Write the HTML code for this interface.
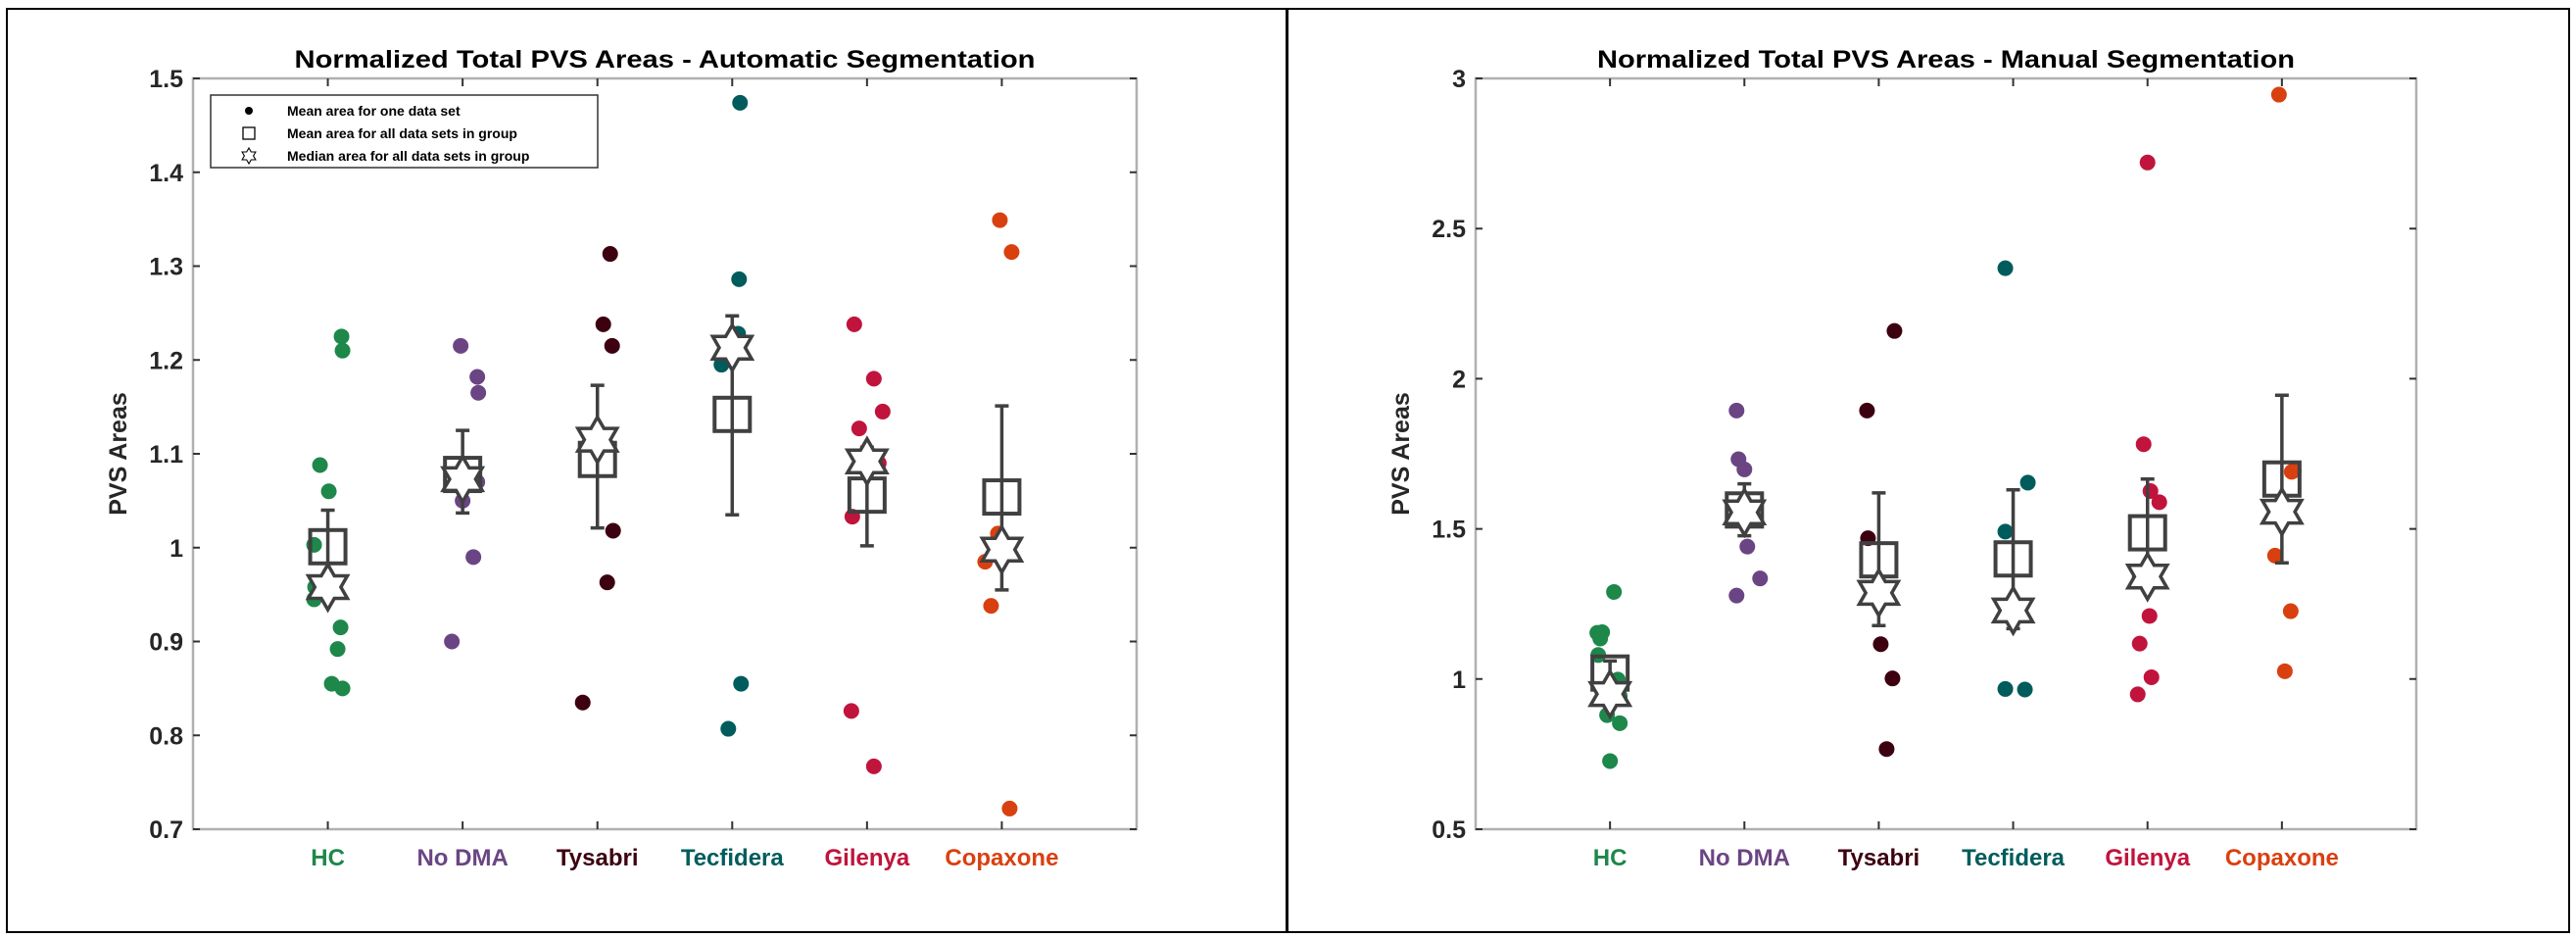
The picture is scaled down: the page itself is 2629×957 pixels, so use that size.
<!DOCTYPE html>
<html><head><meta charset="utf-8">
<style>
html,body{margin:0;padding:0;background:#fff;}
svg{display:block;font-family:"Liberation Sans",Arial,sans-serif;}
</style></head>
<body>
<svg id="chart" width="2629" height="957" viewBox="0 0 2629 957" xmlns="http://www.w3.org/2000/svg">
<rect x="7" y="9" width="1306" height="942" fill="none" stroke="#000" stroke-width="2"/>
<rect x="1314" y="9" width="1308" height="942" fill="none" stroke="#000" stroke-width="2"/>
<g id="left"></g>
<g id="right"></g>
</svg>
<script>
const categories = ["HC","No DMA","Tysabri","Tecfidera","Gilenya","Copaxone"];
const catColors = ["#1e874a","#6b4583","#3d0010","#005c5c","#c0143c","#d94010"];

// Automatic segmentation
const autoPoints = [
  [1.225,1.21,1.088,1.06,1.003,0.958,0.945,0.915,0.892,0.855,0.85],
  [1.215,1.182,1.165,1.07,1.07,1.05,0.99,0.90],
  [1.313,1.238,1.215,1.018,0.963,0.835],
  [1.474,1.286,1.228,1.195,0.855,0.807],
  [1.238,1.18,1.145,1.127,1.092,1.09,1.033,0.826,0.767],
  [1.349,1.315,1.015,0.985,0.938,0.722]
];
const autoJitter = [
  [14,15,-8,1,-14,-13,-14,13,10,4,15],
  [-2,15,16,15,0,0,11,-11],
  [13,6,15,16,10,-15],
  [8,7,6,-11,9,-4],
  [-13,7,16,-8,-3,12,-15,-16,7],
  [-2,10,-4,-17,-11,8]
];
const autoMeans = [1.001,1.078,1.094,1.142,1.056,1.054];
const autoMedians = [0.958,1.073,1.115,1.213,1.092,0.998];
const autoErrLow = [0.962,1.037,1.021,1.035,1.002,0.955];
const autoErrHigh = [1.040,1.125,1.173,1.247,1.107,1.151];
const autoTicks = [0.7,0.8,0.9,1,1.1,1.2,1.3,1.4,1.5];
const autoTickLabels = ["0.7","0.8","0.9","1","1.1","1.2","1.3","1.4","1.5"];

// Manual segmentation
const manPoints = [
  [1.29,1.156,1.154,1.135,1.08,0.998,0.943,0.88,0.853,0.727],
  [1.894,1.732,1.698,1.557,1.55,1.441,1.335,1.278],
  [2.159,1.894,1.469,1.116,1.002,0.767],
  [2.368,1.654,1.491,0.967,0.965],
  [2.72,1.782,1.626,1.589,1.337,1.21,1.118,1.006,0.949],
  [2.946,1.694,1.69,1.411,1.226,1.026]
];
const manJitter = [
  [4,-8,-13,-10,-12,8,10,-3,10,0],
  [-8,-6,0,3,8,3,16,-8],
  [16,-12,-11,2,14,8],
  [-8,15,-8,-8,12],
  [0,-4,3,12,-8,2,-8,4,-10],
  [-3,12,10,-7,9,3]
];
const manMeans = [1.02,1.563,1.397,1.40,1.487,1.666];
const manMedians = [0.95,1.555,1.287,1.228,1.341,1.557];
const manErrLow = [0.92,1.477,1.178,1.168,1.31,1.387];
const manErrHigh = [1.06,1.65,1.62,1.63,1.666,1.945];
const manTicks = [0.5,1,1.5,2,2.5,3];
const manTickLabels = ["0.5","1","1.5","2","2.5","3"];

const NS = "http://www.w3.org/2000/svg";
function mk(parent, tag, attrs, text){
  const e = document.createElementNS(NS, tag);
  for (const k in attrs) e.setAttribute(k, attrs[k]);
  if (text !== undefined) e.textContent = text;
  parent.appendChild(e);
  return e;
}
function hexPts(cx, cy, R){
  const r = R/Math.sqrt(3);
  const pts = [];
  for (let i=0;i<12;i++){
    const a = -Math.PI/2 + i*Math.PI/6;
    const rad = (i%2===0)?R:r;
    pts.push((cx+rad*Math.cos(a)).toFixed(1)+","+(cy+rad*Math.sin(a)).toFixed(1));
  }
  return pts.join(" ");
}

function drawPanel(g, opt){
  const L=opt.left, R=opt.right, T=80, B=846;
  const xS = i => L + (i+1)*(R-L)/7;
  const yS = v => B - (v-opt.ymin)/(opt.ymax-opt.ymin)*(B-T);

  const title = mk(g,"text",{x:(L+R)/2,y:69,"text-anchor":"middle","font-size":"25","font-weight":"bold",fill:"#000",textLength:opt.titleLen,lengthAdjust:"spacingAndGlyphs"},opt.title);
  
  

  const box = mk(g,"rect",{x:L,y:T,width:R-L,height:B-T,fill:"none",stroke:"#b0b0b0","stroke-width":"2.5"});
  
  

  opt.ticks.forEach((t,i)=>{
    const y=yS(t);
    const tk = mk(g,"path",{d:`M${L},${y}h7M${R},${y}h-7`,stroke:"#333","stroke-width":"2"});
    
    
    const lb = mk(g,"text",{x:L-10,y:y+9,"text-anchor":"end","font-size":"25","font-weight":"bold",fill:"#262626"},opt.tickLabels[i]);
    
    
  });
  categories.forEach((c,i)=>{
    const x=xS(i);
    const tk = mk(g,"path",{d:`M${x},${B}v-8M${x},${T}v8`,stroke:"#333","stroke-width":"2"});
    
    
    const lb = mk(g,"text",{x:x,y:883,"text-anchor":"middle","font-size":"24","font-weight":"bold",fill:catColors[i]},c);
    
    
  });
  const yl = mk(g,"text",{transform:`translate(${L-68},${(T+B)/2}) rotate(-90)`,"text-anchor":"middle","font-size":"25","font-weight":"bold",fill:"#262626"},"PVS Areas");
  
  

  categories.forEach((c,i)=>{
    const x=xS(i);
    opt.points[i].forEach((v,j)=>{
      const d = mk(g,"circle",{cx:x+opt.jitter[i][j],cy:yS(v),r:8,fill:catColors[i]});
      
      
    });
  });
  categories.forEach((c,i)=>{
    const x=xS(i);
    const y1=yS(opt.errHigh[i]), y2=yS(opt.errLow[i]);
    const eb = mk(g,"path",{d:`M${x},${y1}V${y2}M${x-7},${y1}h14M${x-7},${y2}h14`,stroke:"#404040","stroke-width":"3.5",fill:"none"});
    
    
    const sq = mk(g,"rect",{x:x-18,y:yS(opt.means[i])-17,width:36,height:34,fill:"none",stroke:"#404040","stroke-width":"4"});
    
    
    const st = mk(g,"polygon",{points:hexPts(x,yS(opt.medians[i]),23),fill:"#fff",stroke:"#404040","stroke-width":"3.5","stroke-linejoin":"miter"});
    
    
  });
}

drawPanel(document.getElementById('left'),{left:197,right:1160,ymin:0.7,ymax:1.5,
  title:"Normalized Total PVS Areas - Automatic Segmentation",titleLen:756,
  points:autoPoints,jitter:autoJitter,means:autoMeans,medians:autoMedians,errLow:autoErrLow,errHigh:autoErrHigh,
  ticks:autoTicks,tickLabels:autoTickLabels});
drawPanel(document.getElementById('right'),{left:1506,right:2466,ymin:0.5,ymax:3,
  title:"Normalized Total PVS Areas - Manual Segmentation",titleLen:712,
  points:manPoints,jitter:manJitter,means:manMeans,medians:manMedians,errLow:manErrLow,errHigh:manErrHigh,
  ticks:manTicks,tickLabels:manTickLabels});

// legend
const lg = document.getElementById('left');
const lgBox = mk(lg,"rect",{x:215,y:97,width:395,height:74,fill:"#fff",stroke:"#333","stroke-width":"1.5"});


const legendLabels = ["Mean area for one data set","Mean area for all data sets in group","Median area for all data sets in group"];
legendLabels.forEach((t,i)=>{
  const y = 113 + i*23;
  let m;
  if (i===0) m = mk(lg,"circle",{cx:254,cy:y,r:4,fill:"#000"});
  else if (i===1) m = mk(lg,"rect",{x:248,y:y-6,width:12,height:12,fill:"none",stroke:"#000","stroke-width":"1.3"});
  else m = mk(lg,"polygon",{points:hexPts(254,y,8),fill:"none",stroke:"#000","stroke-width":"1.1"});
  
  
  const tx = mk(lg,"text",{x:293,y:y+5,"font-size":"14","font-weight":"bold",fill:"#000"},t);
  
  
});
</script>
</body></html>
